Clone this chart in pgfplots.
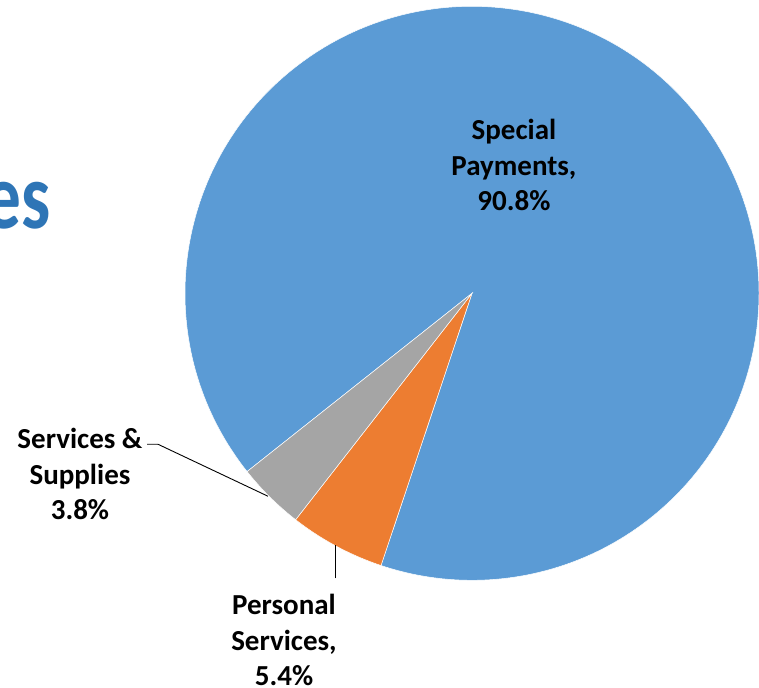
\documentclass[border=0pt]{standalone}
\usepackage{fontspec}
\setmainfont{Carlito}
\usepackage{pgfplots}
\pgfplotsset{compat=1.18}
\usepackage{pgfplotstable}

\definecolor{spblue}{HTML}{5B9BD5}
\definecolor{psorange}{HTML}{ED7D31}
\definecolor{ssgray}{HTML}{A5A5A5}
\definecolor{titleblue}{HTML}{2E75B6}

% shares in percent: Special Payments, Personal Services, Services & Supplies
\pgfplotstableread{
share
90.8
5.4
3.8
}\shares

\pgfplotstablegetelem{0}{share}\of\shares \let\shareA\pgfplotsretval
\pgfplotstablegetelem{1}{share}\of\shares \let\shareB\pgfplotsretval
\pgfplotstablegetelem{2}{share}\of\shares \let\shareC\pgfplotsretval

% slices run clockwise from the first slice angle
\pgfmathsetmacro{\angA}{218.4}
\pgfmathsetmacro{\angB}{\angA-3.6*\shareA}
\pgfmathsetmacro{\angC}{\angB-3.6*\shareB}
\pgfmathsetmacro{\angD}{\angC-3.6*\shareC}

\newcommand{\lbl}{\fontsize{29bp}{35.5bp}\selectfont\bfseries}

\begin{document}
\begin{tikzpicture}
\begin{axis}[
    scale only axis,
    width=759bp, height=688bp,
    xmin=-1.6446, xmax=1.0,
    ymin=-1.3752, ymax=1.0220,
    hide axis,
    clip=false,
]
    \coordinate (sw) at (rel axis cs:0,0);
    \coordinate (ne) at (rel axis cs:1,1);

    \fill[spblue, draw=white, line width=0.5bp] (axis cs:0,0) -- (axis cs:{cos(\angA)},{sin(\angA)})
        arc[start angle=\angA, end angle=\angB, radius=287bp] -- cycle;
    \fill[psorange, draw=white, line width=0.5bp] (axis cs:0,0) -- (axis cs:{cos(\angB)},{sin(\angB)})
        arc[start angle=\angB, end angle=\angC, radius=287bp] -- cycle;
    \fill[ssgray, draw=white, line width=0.5bp] (axis cs:0,0) -- (axis cs:{cos(\angC)},{sin(\angC)})
        arc[start angle=\angC, end angle=\angD, radius=287bp] -- cycle;

    % leader lines
    \draw[black, line width=0.9bp] (axis cs:-1.132,-0.526) -- (axis cs:-1.094,-0.526) -- (axis cs:-0.711,-0.707);
    \draw[black, line width=0.9bp] (axis cs:-0.477,-0.993) -- (axis cs:-0.477,-0.878);

    % data labels
    \node[align=center, font=\lbl] at (axis cs:0.146,0.446) {Special\\Payments,\\90.8\%};
    \node[align=center, font=\lbl] at (axis cs:-1.366,-0.631) {Services \&\\Supplies\\3.8\%};
    \node[align=center, font=\lbl] at (axis cs:-0.655,-1.209) {Personal\\Services,\\5.4\%};

    % cut-off title fragment
    \node[anchor=base east, inner sep=0pt, text=titleblue] at (axis cs:-1.467,0.2275)
        {\scalebox{0.78}[1]{\fontsize{94bp}{94bp}\selectfont\bfseries es}};
\end{axis}
\pgfresetboundingbox
\path[use as bounding box] (sw) rectangle (ne);
\end{tikzpicture}
\end{document}
